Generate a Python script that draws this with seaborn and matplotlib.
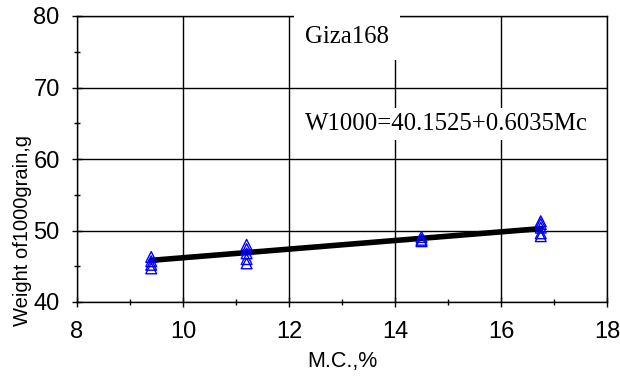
import numpy as np
import pandas as pd
import seaborn as sns
import matplotlib
matplotlib.use("Agg")
import matplotlib.pyplot as plt
from matplotlib import font_manager
from matplotlib.ticker import MultipleLocator

# Moisture content (%) and 1000-grain weight (g) for Giza168
mc_levels = [9.4, 11.2, 14.5, 16.75]
weight_at_9_4 = [46.3, 45.7, 45.2, 44.7]
weight_at_11_2 = [48.0, 47.4, 46.8, 46.0, 45.4]
weight_at_14_5 = [49.1, 48.7, 48.5]
weight_at_16_75 = [51.3, 50.9, 50.4, 49.6, 49.2]

# Fitted relation W1000 = a + b * Mc
intercept = 40.1525
slope = 0.6035

x_ticks = [8, 10, 12, 14, 16, 18]
y_ticks = [40, 50, 60, 70, 80]

groups = [weight_at_9_4, weight_at_11_2, weight_at_14_5, weight_at_16_75]
df = pd.DataFrame({
    "mc": [m for m, g in zip(mc_levels, groups) for _ in g],
    "w": [v for g in groups for v in g],
})
fit = pd.DataFrame({"mc": [mc_levels[0], mc_levels[-1]]})
fit["w"] = intercept + slope * fit["mc"]

sns.set_theme(style="white")
names = {f.name for f in font_manager.fontManager.ttflist}
sans = "Liberation Sans" if "Liberation Sans" in names else "DejaVu Sans"
serif = "Liberation Serif" if "Liberation Serif" in names else "DejaVu Serif"
narrow = "Liberation Sans Narrow" if "Liberation Sans Narrow" in names else sans
plt.rcParams["font.family"] = [sans, "DejaVu Sans"]

fig = plt.figure(figsize=(6.2, 3.79), dpi=100)
ax = fig.add_axes([77 / 620, 1 - 302 / 379, 530 / 620, 286 / 379])

ax.grid(True, which="major", color="black", linewidth=1.0, zorder=0)
ax.set_axisbelow(True)

sns.lineplot(data=fit, x="mc", y="w", ax=ax, color="black", linewidth=4,
             zorder=3, legend=False)
sns.scatterplot(data=df, x="mc", y="w", ax=ax, marker="^", s=60,
                facecolors="none", edgecolor="#0000ff", linewidth=1.0,
                zorder=4, legend=False)

ax.set_xlim(8, 18)
ax.set_ylim(40, 80)
ax.set_xticks(x_ticks)
ax.set_yticks(y_ticks)
ax.xaxis.set_minor_locator(MultipleLocator(1))
ax.yaxis.set_minor_locator(MultipleLocator(5))
ax.tick_params(which="major", direction="inout", length=7, width=1,
               color="black", labelsize=17, labelcolor="black")
ax.tick_params(which="minor", direction="inout", length=5, width=1,
               color="black")
ax.tick_params(axis="x", which="both", bottom=True, pad=10)
ax.tick_params(axis="y", which="both", left=True, pad=9)
for s in ax.spines.values():
    s.set_color("black")
    s.set_linewidth(1.0)

ax.set_xlabel("M.C.,%", fontsize=15.5, color="black", labelpad=6)
ax.set_ylabel("")
fig.text(23 / 620, 1 - 231 / 379, "Weight of1000grain,g", rotation=90,
         ha="center", va="center", fontsize=14.5, family=[narrow, "DejaVu Sans"],
         color="black")

ax.text(12.3, 77.0, "Giza168", fontsize=17.8, family=[serif, "DejaVu Serif"],
        ha="left", va="center", color="black", zorder=5,
        bbox=dict(facecolor="white", edgecolor="none", pad=8))
ax.text(12.3, 64.9, f"W1000={intercept}+{slope}Mc", fontsize=17.8,
        family=[serif, "DejaVu Serif"], ha="left", va="center", color="black",
        zorder=5, bbox=dict(facecolor="white", edgecolor="none", pad=4))

fig.savefig("out.png", dpi=100)
